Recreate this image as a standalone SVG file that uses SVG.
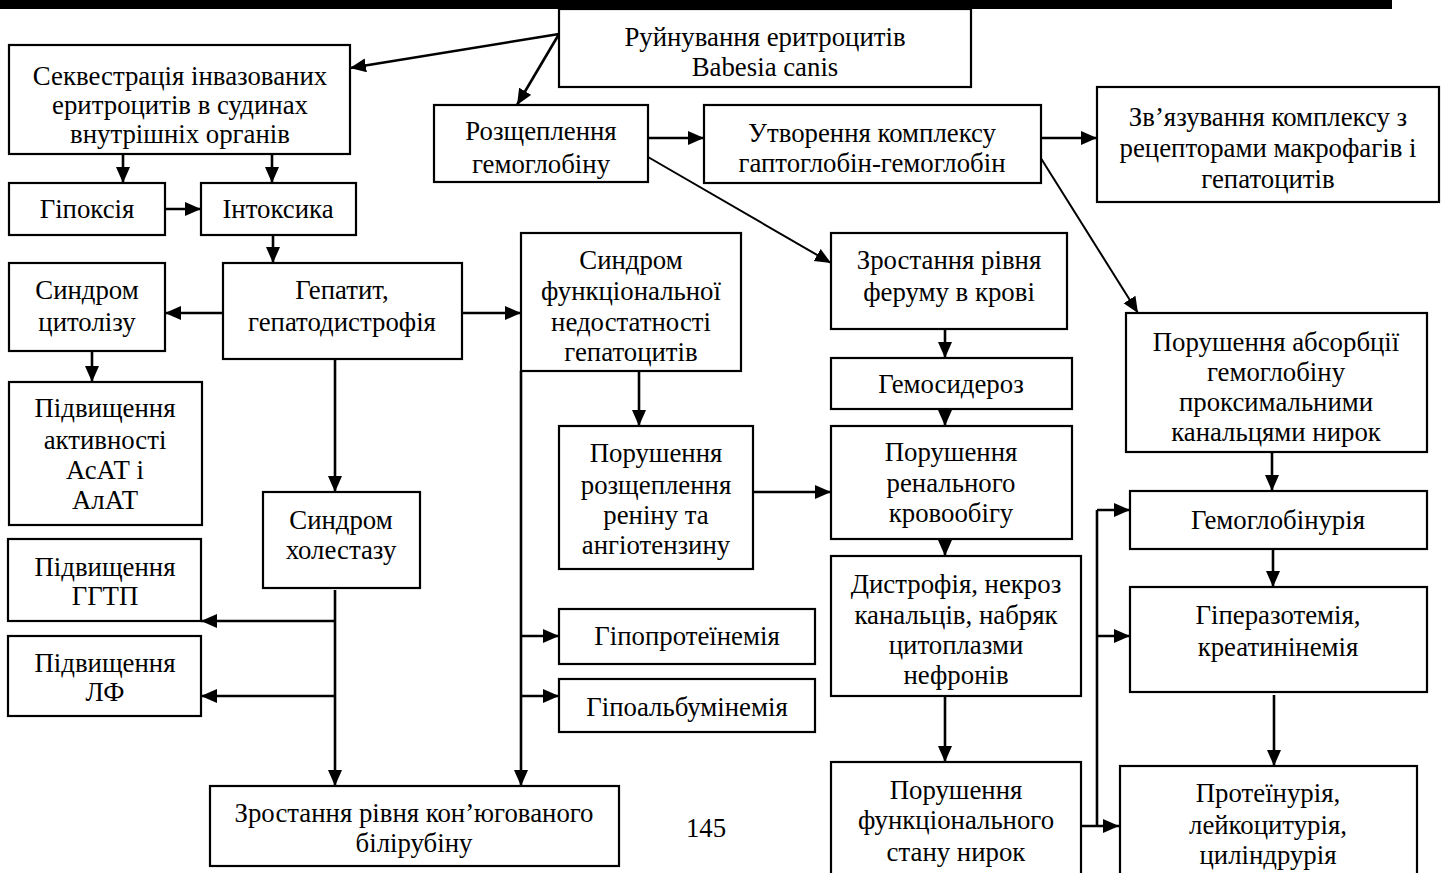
<svg xmlns="http://www.w3.org/2000/svg" width="1442" height="873" viewBox="0 0 1442 873">
<defs>
<style>
.b{fill:#fff;stroke:#000;stroke-width:2.2}
.t{font-family:"Liberation Serif","Times New Roman",serif;font-size:26.8px;fill:#000;text-anchor:middle}
.c{fill:none;stroke:#000;stroke-width:2.6}
.d{fill:none;stroke:#000;stroke-width:2}
</style>
<marker id="ah" markerUnits="userSpaceOnUse" markerWidth="17" markerHeight="15" refX="16" refY="7" orient="auto">
<path d="M0,0 L16,7 L0,14 z" fill="#000"/>
</marker>
</defs>
<rect width="1442" height="873" fill="#fff"/>
<rect x="0" y="0" width="1392" height="9" fill="#000"/>

<g id="connectors">
<line class="c" x1="559" y1="34" x2="350" y2="68" marker-end="url(#ah)"/>
<line class="c" x1="559" y1="34" x2="517" y2="105" marker-end="url(#ah)"/>
<line class="c" x1="123" y1="154" x2="123" y2="183" marker-end="url(#ah)"/>
<line class="c" x1="272" y1="154" x2="272" y2="183" marker-end="url(#ah)"/>
<line class="c" x1="165" y1="209" x2="201" y2="209" marker-end="url(#ah)"/>
<line class="c" x1="273" y1="235" x2="273" y2="263" marker-end="url(#ah)"/>
<line class="c" x1="223" y1="313" x2="165" y2="313" marker-end="url(#ah)"/>
<line class="c" x1="462" y1="313" x2="521" y2="313" marker-end="url(#ah)"/>
<line class="c" x1="92" y1="351" x2="92" y2="382" marker-end="url(#ah)"/>
<line class="c" x1="335" y1="359" x2="335" y2="492" marker-end="url(#ah)"/>
<line class="c" x1="648" y1="138" x2="704" y2="138" marker-end="url(#ah)"/>
<line class="c" x1="1041" y1="138" x2="1097" y2="138" marker-end="url(#ah)"/>
<line class="d" x1="648" y1="157" x2="831" y2="263" marker-end="url(#ah)"/>
<line class="d" x1="1037" y1="152" x2="1138" y2="313" marker-end="url(#ah)"/>
<line class="c" x1="945" y1="329" x2="945" y2="358" marker-end="url(#ah)"/>
<line class="c" x1="945" y1="409" x2="945" y2="426" marker-end="url(#ah)"/>
<line class="c" x1="945" y1="539" x2="945" y2="556" marker-end="url(#ah)"/>
<line class="c" x1="945" y1="696" x2="945" y2="762" marker-end="url(#ah)"/>
<line class="c" x1="639" y1="371" x2="639" y2="426" marker-end="url(#ah)"/>
<line class="c" x1="753" y1="492" x2="831" y2="492" marker-end="url(#ah)"/>
<line class="c" x1="521" y1="371" x2="521" y2="786" marker-end="url(#ah)"/>
<line class="c" x1="521" y1="636" x2="559" y2="636" marker-end="url(#ah)"/>
<line class="c" x1="521" y1="696" x2="559" y2="696" marker-end="url(#ah)"/>
<line class="c" x1="335" y1="590" x2="335" y2="786" marker-end="url(#ah)"/>
<line class="c" x1="335" y1="621" x2="201" y2="621" marker-end="url(#ah)"/>
<line class="c" x1="335" y1="696" x2="201" y2="696" marker-end="url(#ah)"/>
<line class="c" x1="1272" y1="452" x2="1272" y2="491" marker-end="url(#ah)"/>
<line class="c" x1="1273" y1="549" x2="1273" y2="587" marker-end="url(#ah)"/>
<line class="c" x1="1274" y1="695" x2="1274" y2="766" marker-end="url(#ah)"/>
<line class="c" x1="1097" y1="510" x2="1097" y2="826"/>
<line class="c" x1="1097" y1="510" x2="1130" y2="510" marker-end="url(#ah)"/>
<line class="c" x1="1097" y1="636" x2="1130" y2="636" marker-end="url(#ah)"/>
<line class="c" x1="1081" y1="826" x2="1119" y2="826" marker-end="url(#ah)"/>
</g>

<g id="n-ruinuvannia"><rect class="b" x="559" y="9" width="412" height="78"/>
<text class="t" x="765" y="46">Руйнування еритроцитів</text><text class="t" x="765" y="76">Babesia canis</text></g>

<g id="n-sekvestratsiia"><rect class="b" x="9" y="45" width="341" height="109"/>
<text class="t" x="180" y="85">Секвестрація інвазованих</text><text class="t" x="180" y="114">еритроцитів в судинах</text><text class="t" x="180" y="143">внутрішніх органів</text></g>

<g id="n-rozshcheplennia"><rect class="b" x="434" y="105" width="214" height="77"/>
<text class="t" x="541" y="140">Розщеплення</text><text class="t" x="541" y="173">гемоглобіну</text></g>

<g id="n-utvorennia"><rect class="b" x="704" y="105" width="337" height="78"/>
<text class="t" x="872" y="142">Утворення комплексу</text><text class="t" x="872" y="172">гаптоглобін-гемоглобін</text></g>

<g id="n-zviazuvannia"><rect class="b" x="1097" y="87" width="342" height="115"/>
<text class="t" x="1268" y="126">Зв’язування комплексу з</text><text class="t" x="1268" y="157">рецепторами макрофагів і</text><text class="t" x="1268" y="188">гепатоцитів</text></g>

<g id="n-hipoksiia"><rect class="b" x="9" y="183" width="156" height="52"/>
<text class="t" x="87" y="218">Гіпоксія</text></g>

<g id="n-intoksyka"><rect class="b" x="201" y="183" width="155" height="52"/>
<text class="t" x="278" y="218">Інтоксика</text></g>

<g id="n-tsytoliz"><rect class="b" x="9" y="263" width="156" height="88"/>
<text class="t" x="87" y="299">Синдром</text><text class="t" x="87" y="331">цитолізу</text></g>

<g id="n-hepatyt"><rect class="b" x="223" y="263" width="239" height="96"/>
<text class="t" x="342" y="299">Гепатит,</text><text class="t" x="342" y="331">гепатодистрофія</text></g>

<g id="n-funktsionalna"><rect class="b" x="521" y="233" width="220" height="138"/>
<text class="t" x="631" y="269">Синдром</text><text class="t" x="631" y="300">функціональної</text><text class="t" x="631" y="331">недостатності</text><text class="t" x="631" y="361">гепатоцитів</text></g>

<g id="n-asat"><rect class="b" x="9" y="382" width="193" height="143"/>
<text class="t" x="105" y="417">Підвищення</text><text class="t" x="105" y="449">активності</text><text class="t" x="105" y="479">АсАТ і</text><text class="t" x="105" y="509">АлАТ</text></g>

<g id="n-kholestaz"><rect class="b" x="263" y="492" width="157" height="96"/>
<text class="t" x="341" y="529">Синдром</text><text class="t" x="341" y="559">холестазу</text></g>

<g id="n-ferum"><rect class="b" x="831" y="233" width="236" height="96"/>
<text class="t" x="949" y="269">Зростання рівня</text><text class="t" x="949" y="301">феруму в крові</text></g>

<g id="n-hemosyderoz"><rect class="b" x="831" y="358" width="241" height="51"/>
<text class="t" x="951" y="393">Гемосидероз</text></g>

<g id="n-renalnyi"><rect class="b" x="831" y="426" width="241" height="113"/>
<text class="t" x="951" y="461">Порушення</text><text class="t" x="951" y="492">ренального</text><text class="t" x="951" y="522">кровообігу</text></g>

<g id="n-renin"><rect class="b" x="559" y="426" width="194" height="143"/>
<text class="t" x="656" y="462">Порушення</text><text class="t" x="656" y="494">розщеплення</text><text class="t" x="656" y="524">реніну та</text><text class="t" x="656" y="554">ангіотензину</text></g>

<g id="n-absorbtsiia"><rect class="b" x="1126" y="313" width="301" height="139"/>
<text class="t" x="1276" y="351">Порушення абсорбції</text><text class="t" x="1276" y="381">гемоглобіну</text><text class="t" x="1276" y="411">проксимальними</text><text class="t" x="1276" y="441">канальцями нирок</text></g>

<g id="n-hemoglobinuriia"><rect class="b" x="1130" y="491" width="297" height="58"/>
<text class="t" x="1278" y="529">Гемоглобінурія</text></g>

<g id="n-hiperazotemiia"><rect class="b" x="1130" y="587" width="297" height="105"/>
<text class="t" x="1278" y="624">Гіперазотемія,</text><text class="t" x="1278" y="656">креатинінемія</text></g>

<g id="n-dystrofiia"><rect class="b" x="831" y="556" width="250" height="140"/>
<text class="t" x="956" y="593">Дистрофія, некроз</text><text class="t" x="956" y="624">канальців, набряк</text><text class="t" x="956" y="654">цитоплазми</text><text class="t" x="956" y="684">нефронів</text></g>

<g id="n-hipoproteinemiia"><rect class="b" x="559" y="609" width="256" height="55"/>
<text class="t" x="687" y="645">Гіпопротеїнемія</text></g>

<g id="n-hipoalbuminemiia"><rect class="b" x="559" y="679" width="256" height="53"/>
<text class="t" x="687" y="716">Гіпоальбумінемія</text></g>

<g id="n-ggtp"><rect class="b" x="8" y="539" width="193" height="82"/>
<text class="t" x="105" y="576">Підвищення</text><text class="t" x="105" y="605">ГГТП</text></g>

<g id="n-lf"><rect class="b" x="8" y="636" width="193" height="80"/>
<text class="t" x="105" y="672">Підвищення</text><text class="t" x="105" y="701">ЛФ</text></g>

<g id="n-bilirubin"><rect class="b" x="210" y="786" width="409" height="80"/>
<text class="t" x="414" y="822">Зростання рівня кон’югованого</text><text class="t" x="414" y="852">білірубіну</text></g>

<g id="n-funktsionalnyi-stan"><rect class="b" x="831" y="762" width="250" height="130"/>
<text class="t" x="956" y="799">Порушення</text><text class="t" x="956" y="829">функціонального</text><text class="t" x="956" y="861">стану нирок</text></g>

<g id="n-proteinuriia"><rect class="b" x="1120" y="766" width="297" height="126"/>
<text class="t" x="1268" y="802">Протеїнурія,</text><text class="t" x="1268" y="834">лейкоцитурія,</text><text class="t" x="1268" y="864">циліндрурія</text></g>

<text class="t" x="706" y="837">145</text>
</svg>
